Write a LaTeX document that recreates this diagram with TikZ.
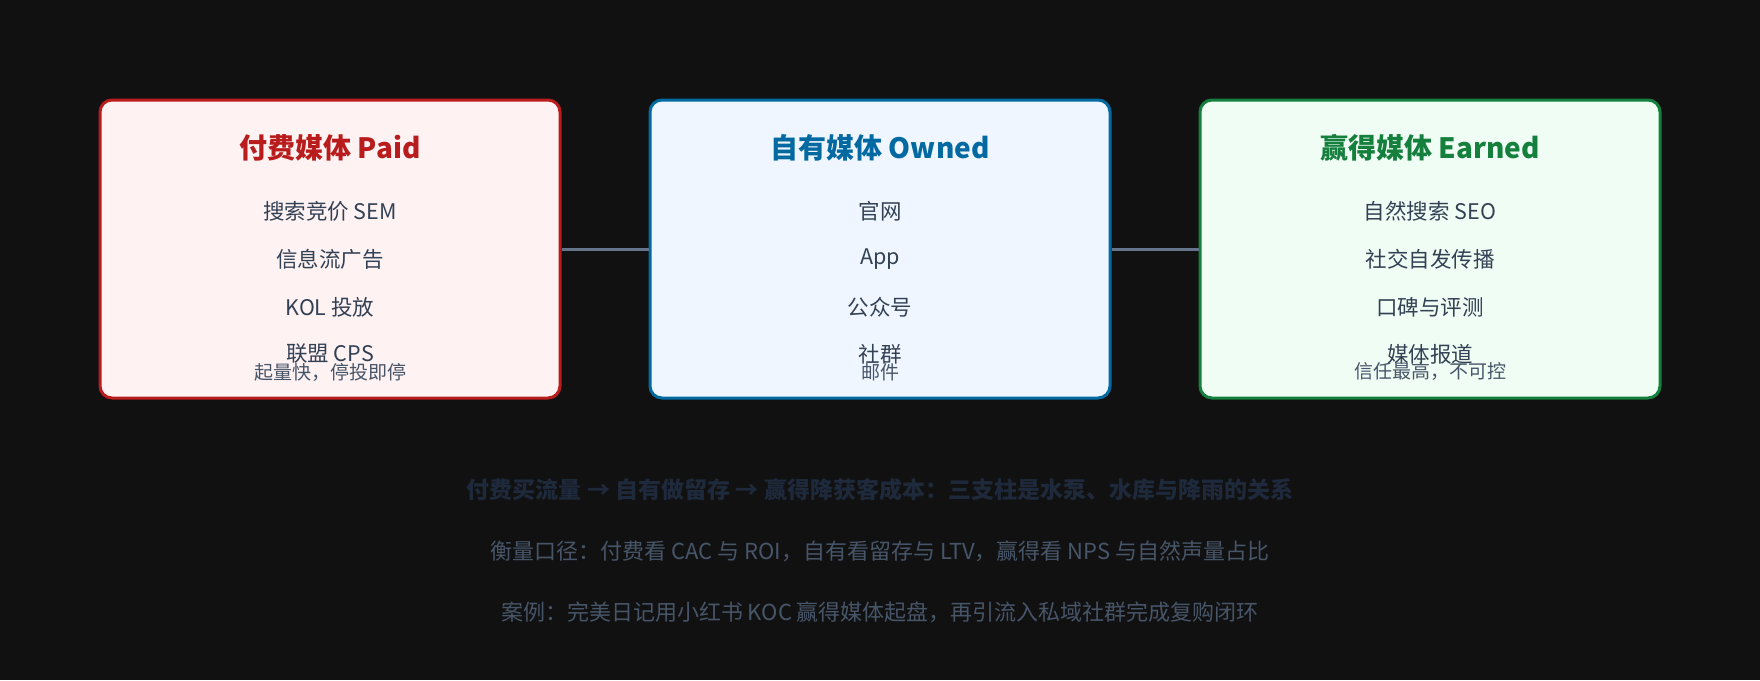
\documentclass[tikz,border=0pt]{standalone}
\usepackage{fontspec}
\setmainfont{Noto Sans CJK SC}
\begin{document}
\begin{tikzpicture}[x=1pt,y=-1pt,
  box/.style={draw=#1,line width=3pt,rounded corners=12pt,minimum width=460pt,minimum height=298pt},
  ttl/.style={font=\fontsize{28}{30}\selectfont\bfseries},
  itm/.style={font=\fontsize{21.5}{24}\selectfont,text=black!70!blue!60!gray},
  note/.style={font=\fontsize{19}{22}\selectfont,text=black!60!gray},
  conn/.style={draw=gray!70!blue!60!white,line width=3pt}]
\definecolor{bg}{HTML}{111111}
\definecolor{rd}{HTML}{B91C1C}\definecolor{rdf}{HTML}{FEF2F2}
\definecolor{bl}{HTML}{0369A1}\definecolor{blf}{HTML}{EFF6FF}
\definecolor{gr}{HTML}{15803D}\definecolor{grf}{HTML}{F0FDF4}
\definecolor{it}{HTML}{334155}\definecolor{nt}{HTML}{475569}
\definecolor{cn}{HTML}{64748B}\definecolor{hd}{HTML}{1E293B}
\fill[bg] (0,0) rectangle (1760,680);
\useasboundingbox (0,0) rectangle (1760,680);
\node[box=rd,fill=rdf] (p) at (330,249) {};
\node[box=bl,fill=blf] (o) at (880,249) {};
\node[box=gr,fill=grf] (e) at (1430,249) {};
\draw[cn,line width=3pt] (p.east) -- (o.west);
\draw[cn,line width=3pt] (o.east) -- (e.west);
\foreach \n/\x/\c/\t/\a/\b/\cc/\d/\f in {
 p/330/rd/付费媒体 Paid/搜索竞价 SEM/信息流广告/KOL 投放/联盟 CPS/起量快，停投即停,
 o/880/bl/自有媒体 Owned/官网 / App/公众号 / 社群/邮件 / 短信/会员体系/资产可沉淀，慢热,
 e/1430/gr/赢得媒体 Earned/自然搜索 SEO/社交自发传播/口碑与评测/媒体报道/信任最高，不可控}{
 \node[ttl,text=\c] (\n t) at (\x,148) {\t};
 \node[font=\fontsize{21.5}{24}\selectfont,text=it] (\n a) at (\x,211) {\a};
 \node[font=\fontsize{21.5}{24}\selectfont,text=it] (\n b) at (\x,259) {\b};
 \node[font=\fontsize{21.5}{24}\selectfont,text=it] (\n c) at (\x,307) {\cc};
 \node[font=\fontsize{21.5}{24}\selectfont,text=it] (\n d) at (\x,354) {\d};
 \node[font=\fontsize{19}{22}\selectfont,text=nt] (\n f) at (\x,372) {\f};
}
\node[font=\fontsize{23}{26}\selectfont\bfseries,text=hd] (l1) at (880,490) {付费买流量 → 自有做留存 → 赢得降获客成本：三支柱是水泵、水库与降雨的关系};
\node[font=\fontsize{22}{26}\selectfont,text=nt] (l2) at (880,551) {衡量口径：付费看 CAC 与 ROI，自有看留存与 LTV，赢得看 NPS 与自然声量占比};
\node[font=\fontsize{22}{26}\selectfont,text=nt] (l3) at (880,612) {案例：完美日记用小红书 KOC 赢得媒体起盘，再引流入私域社群完成复购闭环};
\end{tikzpicture}
\end{document}
